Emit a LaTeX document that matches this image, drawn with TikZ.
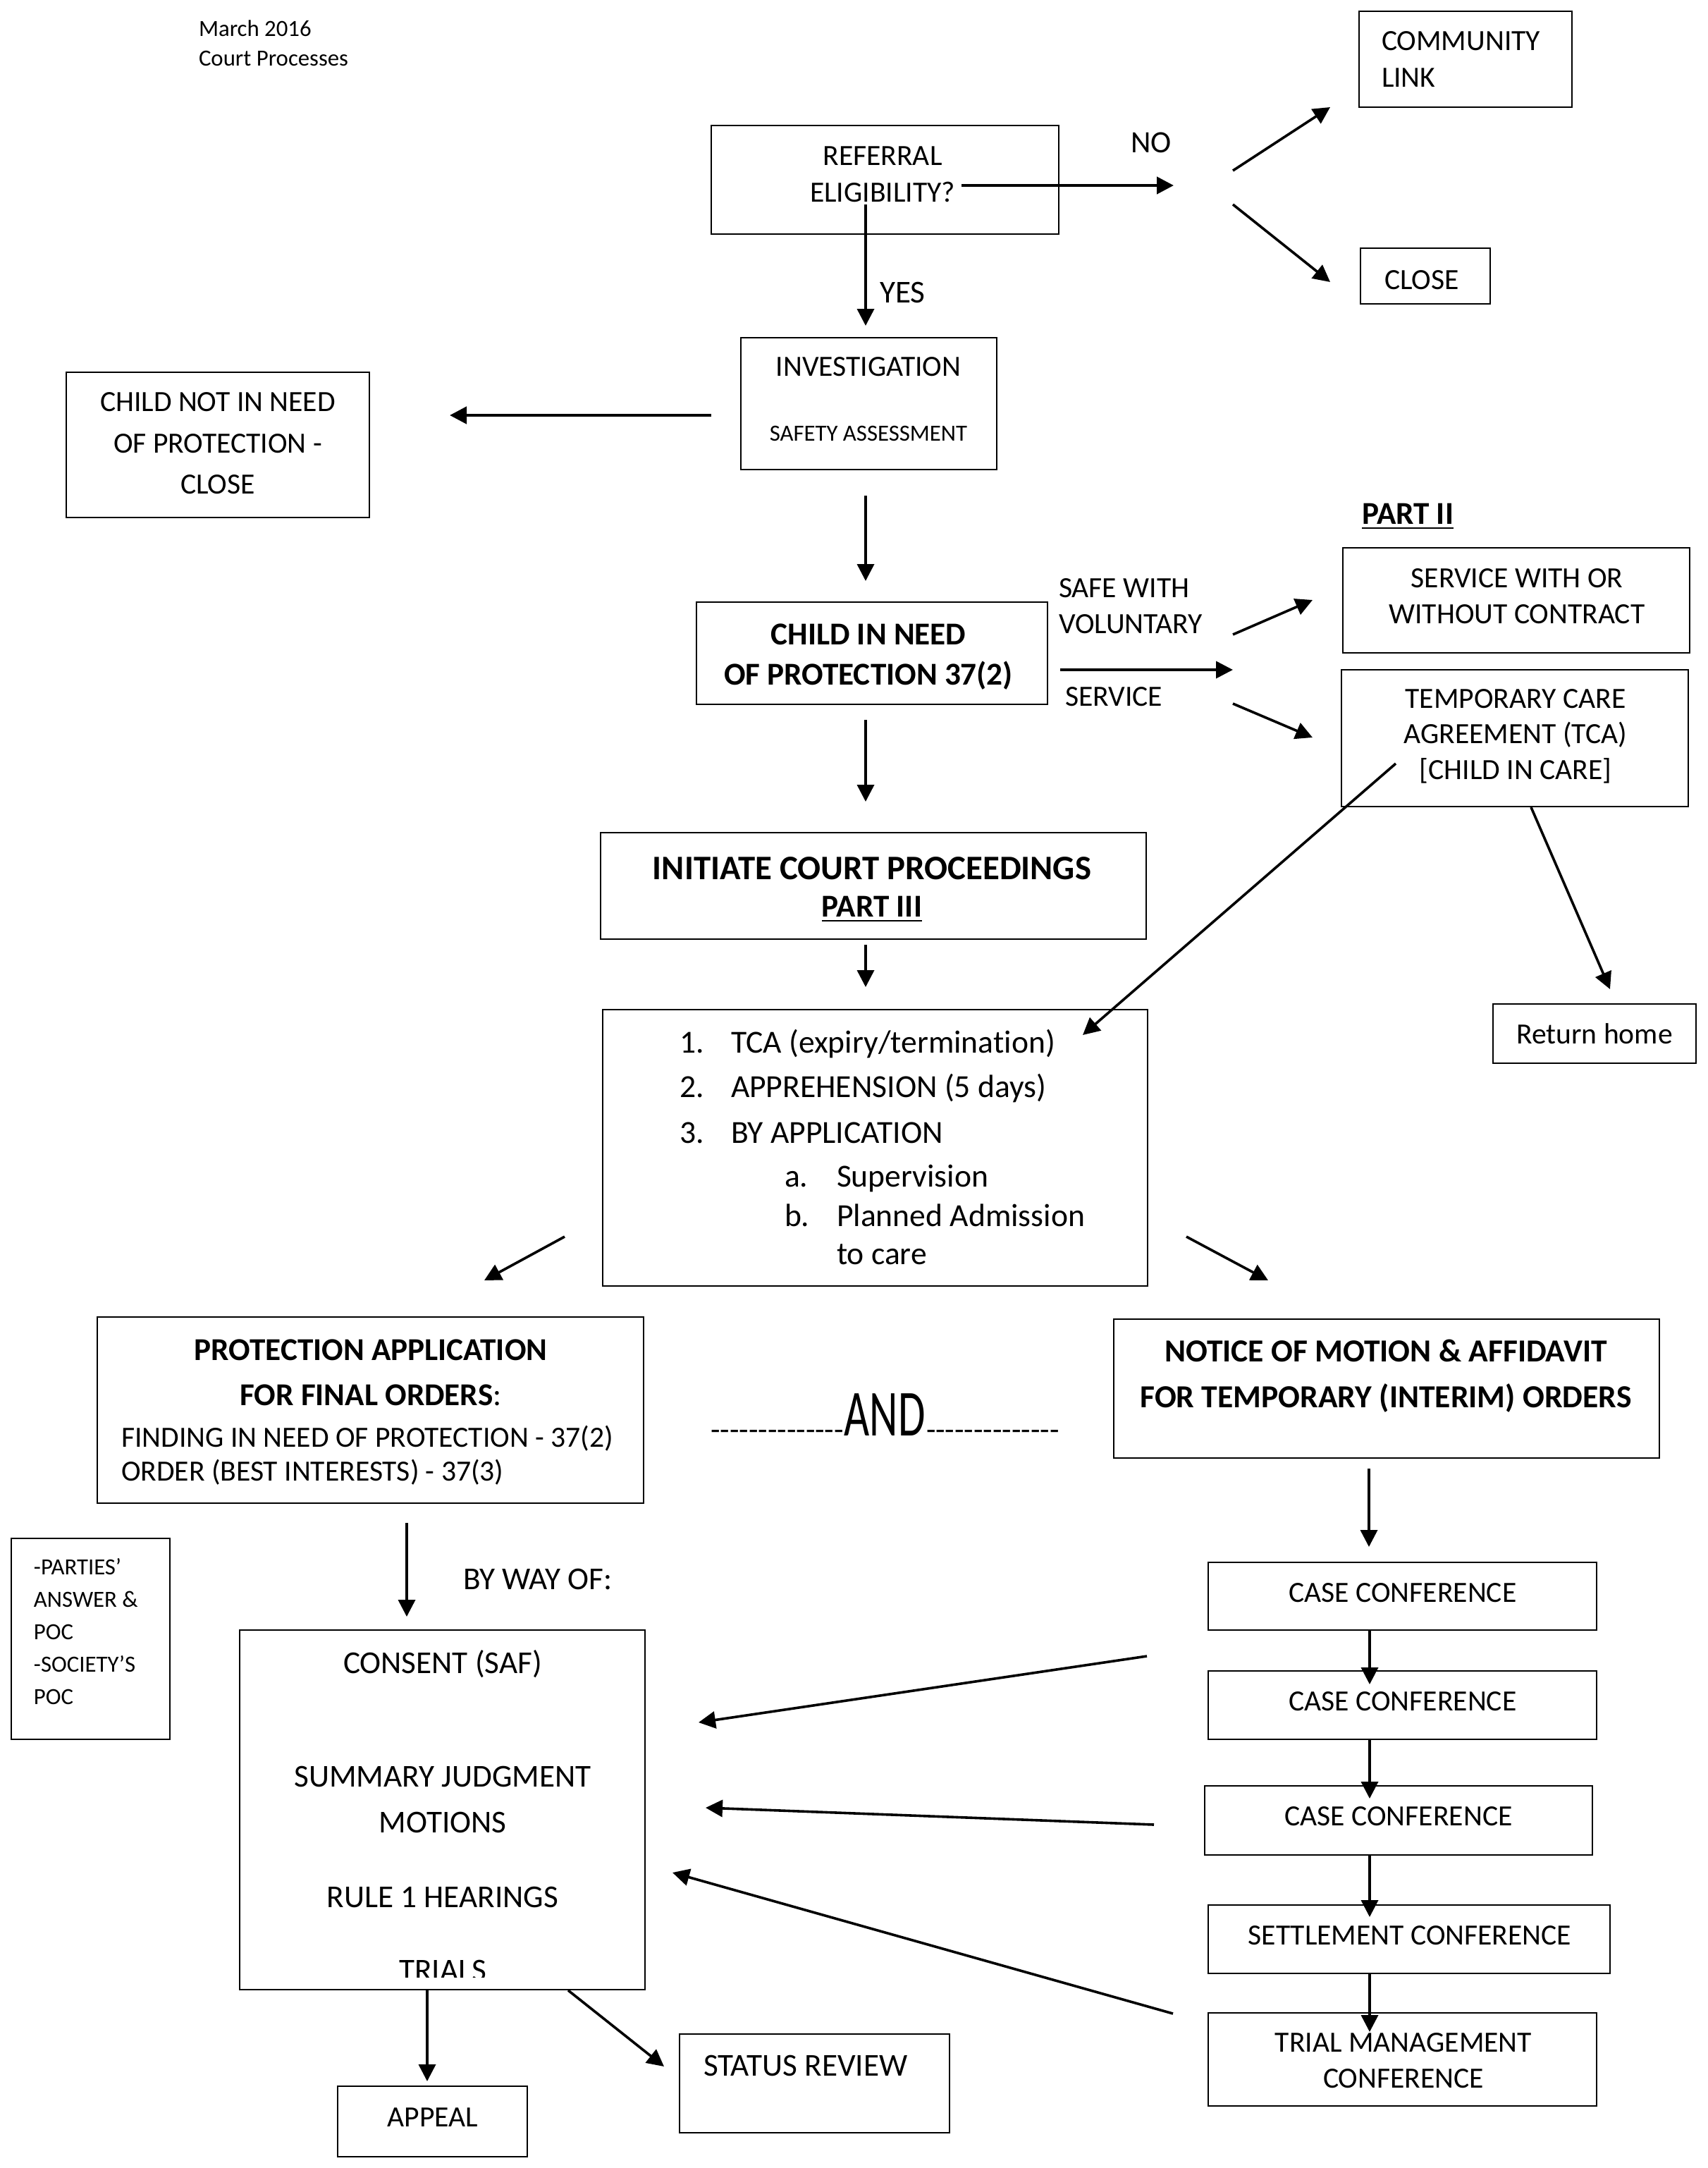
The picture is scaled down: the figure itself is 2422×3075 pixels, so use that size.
\documentclass[tikz,border=0pt]{standalone}
\usepackage{fontspec}
\usepackage{graphicx}
\setmainfont{Carlito}[Ligatures={NoCommon}]
\usetikzlibrary{arrows.meta}
\newcommand\fsz[2]{\fontsize{#1pt}{#2pt}\selectfont}
\newcommand\hyph{-\kern0pt}
\newcommand\hyphrun{\hyph\hyph\hyph\hyph\hyph\hyph\hyph\hyph\hyph\hyph\hyph\hyph\hyph\hyph}
\newcommand\mybox[5]{\node[box, minimum width={((#4)-(#2))*0.25pt}, minimum height={((#5)-(#3))*0.25pt}] (#1) at ({((#2)+(#4))/2},{((#3)+(#5))/2}) {};}
\tikzset{
  box/.style={draw=black, line width=0.65pt, inner sep=0pt, outer sep=0pt},
  arr/.style={-{Triangle[length=6pt,width=6pt]}, line width=0.9pt},
  thickarr/.style={arr, line width=1.15pt},
  txt/.style={inner sep=0pt, outer sep=0pt, align=center, font=\fsz{10.4}{13}},
  bigtxt/.style={txt, font=\fsz{11.3}{14}},
  boldtxt/.style={txt, font=\bfseries\fsz{11.3}{14}},
  smalltxt/.style={txt, font=\fsz{8.2}{10.5}},
  lsttxt/.style={txt, font=\fsz{11.4}{14}, anchor=base west},
}
\begin{document}
\begin{tikzpicture}[x=0.25pt,y=-0.25pt]
\fill[white] (0,0) rectangle (2422,3075);
\useasboundingbox (0,0) rectangle (2422,3075);

% ---------- boxes ----------
\mybox{ref}{1009}{178}{1502}{332}
\mybox{comm}{1928}{16}{2230}{152}
\mybox{closeb}{1930}{352}{2114}{431}
\mybox{inv}{1051}{479}{1414}{666}
\mybox{cnin}{94}{528}{524}{734}
\mybox{cin}{988}{854}{1486}{999}
\mybox{serv}{1905}{777}{2397}{926}
\mybox{tca}{1903}{950}{2395}{1144}
\mybox{init}{852}{1181}{1626}{1332}
\mybox{lst}{855}{1432}{1628}{1824}
\mybox{home}{2118}{1424}{2406}{1508}
\mybox{prot}{138}{1868}{913}{2132}
\mybox{notice}{1580}{1871}{2354}{2068}
\mybox{parties}{16}{2182}{241}{2467}
\mybox{consent}{340}{2312}{915}{2822}
\mybox{cc1}{1714}{2216}{2265}{2312}
\mybox{cc2}{1714}{2370}{2265}{2467}
\mybox{cc3}{1709}{2533}{2259}{2631}
\mybox{sc}{1714}{2702}{2284}{2799}
\mybox{tmc}{1714}{2855}{2265}{2987}
\mybox{appeal}{479}{2959}{748}{3059}
\mybox{status}{964}{2885}{1347}{3025}

% ---------- texts ----------
\node[smalltxt, align=left, anchor=west] (hdr) at (282,61) {March 2016\\Court Processes};
\node[txt] (reft) at (1252,247) {REFERRAL\\ELIGIBILITY?};
\node[txt, font=\fsz{11}{13}] (no) at (1633,202) {NO};
\node[txt, align=left, anchor=west] (commt) at (1960,84) {COMMUNITY\\LINK};
\node[txt, anchor=west] (closet) at (1964,397) {CLOSE};
\node[bigtxt, anchor=west] (yes) at (1248,415) {YES};
\node[txt] (invt) at (1232,520) {INVESTIGATION};
\node[smalltxt] (safety) at (1232,615) {SAFETY ASSESSMENT};
\node[txt, font=\fsz{10.4}{14.6}] (cnint) at (309,629) {CHILD NOT IN NEED\\OF PROTECTION -\\CLOSE};
\node[txt, font=\bfseries\fsz{11.3}{14.25}] (cint) at (1232,932) {CHILD IN NEED\\OF PROTECTION 37(2)};
\node[txt, align=left, anchor=west, font=\fsz{10.4}{12.75}] (safe) at (1502,860) {SAFE WITH\\VOLUNTARY};
\node[txt, anchor=west] (svc) at (1511,988) {SERVICE};
\node[boldtxt, anchor=west] (part2) at (1932,733) {\underline{PART II}};
\node[txt, font=\fsz{10.4}{12.75}] (servt) at (2152,846) {SERVICE WITH OR\\WITHOUT CONTRACT};
\node[txt, font=\fsz{10.4}{12.6}] (tcat) at (2150,1044) {TEMPORARY CARE\\AGREEMENT (TCA)\\{[CHILD IN CARE]}};
\node[txt] (homet) at (2262,1466) {Return home};
\node[txt, font=\bfseries\fsz{12.2}{14.5}] (initt) at (1237,1232) {INITIATE COURT PROCEEDINGS};
\node[boldtxt] (part3) at (1237,1290) {\underline{PART III}};

\node[lsttxt] (n1) at (964,1493) {1.};
\node[lsttxt] (i1) at (1037,1493) {TCA (expiry/termination)};
\node[lsttxt] (n2) at (964,1556) {2.};
\node[lsttxt] (i2) at (1037,1556) {APPREHENSION (5 days)};
\node[lsttxt] (n3) at (964,1621) {3.};
\node[lsttxt] (i3) at (1037,1621) {BY APPLICATION};
\node[lsttxt] (na) at (1113,1683) {a.};
\node[lsttxt] (ia) at (1187,1683) {Supervision};
\node[lsttxt] (nb) at (1113,1739) {b.};
\node[lsttxt] (ib) at (1187,1739) {Planned Admission};
\node[lsttxt] (ib2) at (1187,1793) {to care};

\node[boldtxt] (pt1) at (526,1915) {PROTECTION APPLICATION};
\node[bigtxt] (pt2) at (526,1979) {\textbf{FOR FINAL ORDERS}:};
\node[txt, align=left, anchor=west, font=\fsz{10.4}{12}] (pt3) at (172,2064) {FINDING IN NEED OF PROTECTION - 37(2)\\ORDER (BEST INTERESTS) - 37(3)};

\node[txt, font=\bfseries\fsz{11.4}{16.25}] (nt) at (1966,1952) {NOTICE OF MOTION \& AFFIDAVIT\\FOR TEMPORARY (INTERIM) ORDERS};

\node[txt, font=\fsz{11}{13}, anchor=base east] (dl) at (1197,2042) {\hyphrun};
\node[txt, anchor=base, font=\fsz{23.3}{26}] (andw) at (1255,2036) {\scalebox{0.67}[1]{AND}};
\node[txt, font=\fsz{11}{13}, anchor=base west] (dr) at (1314,2042) {\hyphrun};

\node[txt, align=left, anchor=west, font=\fsz{8.2}{11.56}] (partt) at (48,2314) {-PARTIES’\\ANSWER \&\\POC\\-SOCIETY’S\\POC};
\node[bigtxt, anchor=west] (bywo) at (657,2240) {BY WAY OF:};
\node[bigtxt] (c1) at (628,2360) {CONSENT (SAF)};
\node[bigtxt, font=\fsz{11.3}{16.25}] (c2) at (628,2552) {SUMMARY JUDGMENT\\MOTIONS};
\node[bigtxt] (c3) at (628,2691) {RULE 1 HEARINGS};
\begin{scope}
\clip (340,2700) rectangle (915,2804);
\node[bigtxt, anchor=base] (c4) at (628,2809) {TRIALS};
\end{scope}
\node[txt] (appealt) at (614,3003) {APPEAL};
\node[bigtxt, anchor=west] (statust) at (998,2930) {STATUS REVIEW};

\node[txt] (cc1t) at (1990,2259) {CASE CONFERENCE};
\node[txt] (cc2t) at (1990,2413) {CASE CONFERENCE};
\node[txt] (cc3t) at (1984,2576) {CASE CONFERENCE};
\node[txt] (sct) at (2000,2745) {SETTLEMENT CONFERENCE};
\node[txt, font=\fsz{10.4}{12.75}] (tmct) at (1991,2923) {TRIAL MANAGEMENT\\CONFERENCE};

% ---------- connectors ----------
\coordinate (noS) at (1364,263);   \coordinate (noE) at (1665,263);
\coordinate (fkU) at (1749,242);   \coordinate (fkUe) at (1887,152);
\coordinate (fkD) at (1749,290);   \coordinate (fkDe) at (1887,400);
\coordinate (yesE) at (1228,462);
\coordinate (invL) at (1009,589);  \coordinate (invLe) at (638,589);
\coordinate (invD) at (1228,703);  \coordinate (invDe) at (1228,824);
\coordinate (cinR) at (1504,950);  \coordinate (cinRe) at (1749,950);
\coordinate (svU) at (1749,900);   \coordinate (svUe) at (1862,851);
\coordinate (svD) at (1749,998);   \coordinate (svDe) at (1862,1046);
\coordinate (cinD) at (1228,1021); \coordinate (cinDe) at (1228,1137);
\coordinate (initDe) at (1228,1400);
\coordinate (tcaX) at (1980,1083); \coordinate (tcaXe) at (1536,1468);
\coordinate (tcaH) at (2172,1145); \coordinate (tcaHe) at (2284,1403);
\coordinate (lsL) at (801,1754);   \coordinate (lsLe) at (687,1816);
\coordinate (lsR) at (1683,1754);  \coordinate (lsRe) at (1799,1816);
\coordinate (prD) at (577,2160);   \coordinate (prDe) at (577,2293);
\coordinate (ntD) at (1942,2083);  \coordinate (ntDe) at (1942,2194);
\coordinate (x2) at (1943,2389);
\coordinate (x3) at (1943,2551);
\coordinate (x4) at (1943,2719);
\coordinate (x5) at (1943,2882);
\coordinate (ca1) at (1627,2349);  \coordinate (ca1e) at (991,2443);
\coordinate (ca2) at (1637,2588);  \coordinate (ca2e) at (1001,2564);
\coordinate (ca3) at (1664,2856);  \coordinate (ca3e) at (954,2656);
\coordinate (apDe) at (606,2952);
\coordinate (stD) at (806,2823);   \coordinate (stDe) at (942,2931);

\draw[thickarr] (noS) -- (noE);
\draw[arr] (fkU) -- (fkUe);
\draw[arr] (fkD) -- (fkDe);
\draw[arr] (reft.south -| yesE) ++(0,4) -- (yesE);
\draw[thickarr] (invL) -- (invLe);
\draw[arr] (invD) -- (invDe);
\draw[arr] (cinR) -- (cinRe);
\draw[arr] (svU) -- (svUe);
\draw[arr] (svD) -- (svDe);
\draw[arr] (cinD) -- (cinDe);
\draw[arr] (init.south -| initDe) ++(0,8) -- (initDe);
\draw[arr] (tcaX) -- (tcaXe);
\draw[arr] (tcaH) -- (tcaHe);
\draw[arr] (lsL) -- (lsLe);
\draw[arr] (lsR) -- (lsRe);
\draw[arr] (prD) -- (prDe);
\draw[arr] (ntD) -- (ntDe);
\draw[arr] (cc1.south -| x2) -- (x2);
\draw[arr] (cc2.south -| x3) -- (x3);
\draw[arr] (cc3.south -| x4) -- (x4);
\draw[arr] (sc.south -| x5) -- (x5);
\draw[arr] (ca1) -- (ca1e);
\draw[arr] (ca2) -- (ca2e);
\draw[arr] (ca3) -- (ca3e);
\draw[arr] (consent.south -| apDe) -- (apDe);
\draw[arr] (stD) -- (stDe);
\end{tikzpicture}
\end{document}
